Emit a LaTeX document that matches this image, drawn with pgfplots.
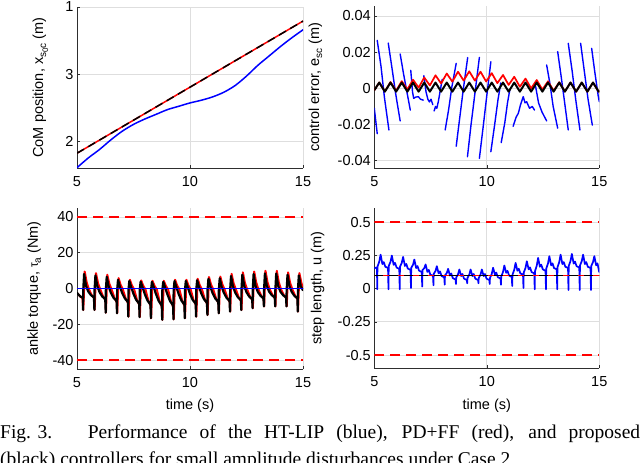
\documentclass[border=0pt]{standalone}
\usepackage{fontspec}
\setmainfont{Liberation Sans}
\newfontfamily\capfont{Liberation Serif}
\usepackage{pgfplots}
\pgfplotsset{compat=1.18}
\definecolor{mblue}{rgb}{0,0,1}
\definecolor{mred}{rgb}{1,0,0}
\definecolor{gridc}{gray}{0.87}
\definecolor{axc}{gray}{0.18}
\pgfplotsset{
  myax/.style={
    scale only axis,
    axis lines*=left,
    axis line style={axc, line width=0.8pt, -},
    xmin=5, xmax=15,
    xtick={5,10,15},
    xticklabels={5,10,15},
    scaled y ticks=false,
    grid=major,
    major grid style={gridc, line width=0.7pt},
    tick align=inside,
    major tick length=3pt,
    tick style={axc, line width=0.6pt},
    ticklabel style={font=\fontsize{14.5}{16}\selectfont},
    xticklabel style={yshift=-5pt},
    label style={font=\fontsize{14.5}{16}\selectfont},
    /pgf/number format/assume math mode=true,
    unbounded coords=jump,
    every axis plot/.append style={line join=round, line cap=round},
  }
}
\begin{document}
\begin{tikzpicture}
% ---------------- top left: CoM position
\begin{axis}[myax, at={(77pt,-168pt)}, anchor=south west, width=226pt, height=161pt,
  ymin=1.6, ymax=4, ytick={2,3,4}, yticklabels={2,3,1},
  ylabel={CoM position, x\raisebox{-0.4ex}{\fontsize{10}{10}\selectfont s\raisebox{-0.35ex}{\fontsize{8}{8}\selectfont 0}c} (m)},
  ylabel style={at={(axis description cs:-0.150,0.5)}, anchor=base}]
\addplot[mblue, line width=1.5pt, smooth] coordinates {(5,1.605) (5.5,1.75) (6,1.877) (6.5,2.02) (7,2.148) (7.5,2.25) (8,2.33) (8.5,2.40) (9,2.47) (9.5,2.52) (10,2.57) (10.5,2.61) (11,2.66) (11.5,2.73) (12,2.83) (12.5,2.97) (13,3.13) (13.5,3.27) (14,3.41) (14.5,3.54) (15,3.66)};
\addplot[mred, line width=1.5pt] coordinates {(5,1.82) (15,3.79)};
\addplot[black, line width=1.5pt, line cap=butt, dash pattern=on 8pt off 5pt] coordinates {(5,1.82) (15,3.79)};
\end{axis}
% ---------------- top right: control error
\begin{axis}[myax, at={(374.3pt,-168pt)}, anchor=south west, width=225pt, height=162pt,
  ymin=-0.044, ymax=0.0455, ytick={-0.04,-0.02,0,0.02,0.04}, yticklabels={-0.04,-0.02,0,0.02,0.04},
  ylabel={control error, e\raisebox{-0.4ex}{\fontsize{10}{10}\selectfont sc} (m)},
  ylabel style={at={(axis description cs:-0.245,0.5)}, anchor=base}]
\addplot[mblue, line width=1.4pt] coordinates {
(5.0,-0.011) (5.13,-0.025) (5.13,nan)
(5.13,0.0265) (5.3,0.012) (5.45,-0.005) (5.65,-0.023) (5.65,nan)
(5.62,0.025) (5.8,0.01) (5.95,-0.003) (6.15,-0.018) (6.15,nan)
(6.15,0.019) (6.3,0.008) (6.45,-0.002) (6.6,-0.012) (6.6,nan)
(6.62,0.010) (6.7,-0.002) (6.75,-0.0055) (6.85,-0.0048) (6.96,-0.0046) (7.05,-0.006) (7.18,-0.0065) (7.18,nan)
(7.2,0.007) (7.3,-0.002) (7.38,-0.006) (7.45,-0.0075) (7.52,-0.006) (7.6,-0.009) (7.6,nan)
(7.66,-0.0125) (7.72,-0.010) (7.78,-0.011) (7.85,-0.007) (7.92,-0.002) (8.02,0.005) (8.02,nan)
(8.15,-0.023) (8.3,-0.012) (8.45,0.001) (8.64,0.0138) (8.64,nan)
(8.64,-0.032) (8.8,-0.016) (8.95,-0.001) (9.15,0.017) (9.15,nan)
(9.14,-0.0378) (9.3,-0.02) (9.5,0.0) (9.67,0.0171) (9.67,nan)
(9.67,-0.0387) (9.85,-0.02) (10.0,-0.004) (10.18,0.0147) (10.18,nan)
(10.18,-0.035) (10.35,-0.02) (10.5,-0.006) (10.62,0.003) (10.62,nan)
(10.64,-0.030) (10.8,-0.019) (10.92,-0.008) (11.02,-0.001) (11.02,nan)
(11.17,-0.021) (11.3,-0.016) (11.4,-0.0138) (11.5,-0.009) (11.62,-0.0046) (11.7,-0.008) (11.77,-0.0074) (11.9,-0.011) (12.02,-0.010) (12.12,-0.012) (12.12,nan)
(12.17,0.001) (12.3,-0.008) (12.45,-0.013) (12.66,-0.018) (12.66,nan)
(12.66,0.0129) (12.8,0.003) (12.95,-0.01) (13.15,-0.022) (13.15,nan)
(13.15,0.0203) (13.3,0.007) (13.45,-0.007) (13.62,-0.023) (13.62,nan)
(13.62,0.0249) (13.8,0.009) (13.95,-0.006) (14.14,-0.023) (14.14,nan)
(14.17,0.0249) (14.35,0.008) (14.5,-0.006) (14.69,-0.0203) (14.69,nan)
(14.66,0.0221) (14.8,0.009) (14.95,-0.004) (15.0,-0.0074)
};
\addplot[mred, line width=1.7pt] coordinates {
(5.0,-0.001) (5.22,0.0032) (5.47,-0.0017) (5.72,0.0035) (5.97,-0.0013) (6.22,0.0040) (6.47,-0.0006)
(6.72,0.0048) (6.97,0.0004) (7.22,0.0060) (7.47,0.0016) (7.72,0.0072) (7.97,0.0027)
(8.22,0.0082) (8.47,0.0037) (8.72,0.0092) (8.97,0.0043) (9.22,0.0094) (9.47,0.0043)
(9.72,0.0092) (9.97,0.0038) (10.22,0.0084) (10.47,0.0029) (10.72,0.0074) (10.97,0.0019)
(11.22,0.0064) (11.47,0.0009) (11.72,0.0054) (11.97,0.0000) (12.22,0.0046) (12.47,-0.0007)
(12.72,0.0039) (12.97,-0.0013) (13.22,0.0034) (13.47,-0.0017) (13.72,0.0032) (13.97,-0.0018)
(14.22,0.0032) (14.47,-0.0018) (14.72,0.0032) (14.97,-0.0018) (15,-0.0015)};
\addplot[black, line width=2pt] coordinates {
(5.0,-0.001) (5.22,0.0032) (5.47,-0.0018) (5.72,0.0032) (5.97,-0.0018) (6.22,0.0032) (6.47,-0.0018)
(6.72,0.0032) (6.97,-0.0018) (7.22,0.0032) (7.47,-0.0018) (7.72,0.0032) (7.97,-0.0018)
(8.22,0.0032) (8.47,-0.0018) (8.72,0.0032) (8.97,-0.0018) (9.22,0.0032) (9.47,-0.0018)
(9.72,0.0032) (9.97,-0.0018) (10.22,0.0032) (10.47,-0.0018) (10.72,0.0032) (10.97,-0.0018)
(11.22,0.0032) (11.47,-0.0018) (11.72,0.0032) (11.97,-0.0018) (12.22,0.0032) (12.47,-0.0018)
(12.72,0.0032) (12.97,-0.0018) (13.22,0.0032) (13.47,-0.0018) (13.72,0.0032) (13.97,-0.0018)
(14.22,0.0032) (14.47,-0.0018) (14.72,0.0032) (14.97,-0.0018) (15,-0.0015)};
\end{axis}
% ---------------- bottom left: ankle torque
\begin{axis}[myax, at={(77pt,-369pt)}, anchor=south west, width=226pt, height=161pt,
  ymin=-45, ymax=45, ytick={-40,-20,0,20,40}, yticklabels={-40,-20,0,20,40},
  ylabel={ankle torque, {\fontsize{12}{12}\selectfont τ}\raisebox{-0.4ex}{\fontsize{10}{10}\selectfont a} (Nm)},
  ylabel style={at={(axis description cs:-0.173,0.5)}, anchor=base},
  xlabel={time (s)}, xlabel style={at={(axis description cs:0.5,-0.25)}, anchor=base}]
\addplot[mred, line width=1.5pt, line cap=butt, dash pattern=on 10pt off 6pt] coordinates {(5,40) (15,40)};
\addplot[mred, line width=1.5pt, line cap=butt, dash pattern=on 10pt off 6pt] coordinates {(5,-40) (15,-40)};
\addplot[mred, line width=2pt] coordinates {
(5,-2.5) (5.15,-4.5) (5.24,-5.5)
(5.28,-12) (5.34,9.5) (5.43,3.33) (5.53,-0.5) (5.65,-3.6) (5.76,-5.5)
(5.78,-12) (5.84,8.6) (5.93,3.01) (6.03,-0.5) (6.15,-4.32) (6.26,-6.6)
(6.28,-13.5) (6.34,7.7) (6.43,2.7) (6.53,-0.5) (6.65,-5.04) (6.76,-7.7)
(6.78,-13.8) (6.84,5.8) (6.93,2.03) (7.03,-0.5) (7.15,-5.4) (7.26,-8.25)
(7.28,-15.7) (7.34,4.9) (7.43,1.72) (7.53,-0.5) (7.65,-6.12) (7.76,-9.35)
(7.78,-16) (7.84,4.5) (7.93,1.58) (8.03,-0.5) (8.15,-6.48) (8.26,-9.9)
(8.28,-16.6) (8.34,4.3) (8.43,1.5) (8.53,-0.5) (8.65,-6.84) (8.76,-10.45)
(8.78,-17.5) (8.84,4.3) (8.93,1.5) (9.03,-0.5) (9.15,-6.84) (9.26,-10.45)
(9.28,-17.2) (9.34,4.9) (9.43,1.72) (9.53,-0.5) (9.65,-6.48) (9.76,-9.9)
(9.78,-16.6) (9.84,4.9) (9.93,1.72) (10.03,-0.5) (10.15,-6.12) (10.26,-9.35)
(10.28,-15.7) (10.34,5.4) (10.43,1.89) (10.53,-0.5) (10.65,-5.76) (10.76,-8.8)
(10.78,-14.8) (10.84,6.4) (10.93,2.24) (11.03,-0.5) (11.15,-5.4) (11.26,-8.25)
(11.28,-13.8) (11.34,6.7) (11.43,2.35) (11.53,-0.5) (11.65,-5.04) (11.76,-7.7)
(11.78,-12.9) (11.84,8.2) (11.93,2.87) (12.03,-0.5) (12.15,-4.68) (12.26,-7.15)
(12.28,-12) (12.34,9.0) (12.43,3.15) (12.53,-0.5) (12.65,-4.32) (12.76,-6.6)
(12.78,-11) (12.84,9.5) (12.93,3.33) (13.03,-0.5) (13.15,-3.96) (13.26,-6.05)
(13.28,-10) (13.34,9.9) (13.43,3.47) (13.53,-0.5) (13.65,-3.6) (13.76,-5.5)
(13.78,-10) (13.84,9.9) (13.93,3.47) (14.03,-0.5) (14.15,-3.6) (14.26,-5.5)
(14.28,-10) (14.34,9.0) (14.43,3.15) (14.53,-0.5) (14.65,-3.96) (14.76,-6.05)
(14.78,-12.9) (14.84,8.6) (14.93,3.01) (15,0.5)};
\addplot[black, line width=2.2pt] coordinates {
(5,-2.5) (5.15,-4.5) (5.26,-5)
(5.27,-12) (5.275,-1) (5.315,8.1) (5.40,1.4) (5.50,-1.75) (5.62,-3.75) (5.75,-5)
(5.77,-12) (5.775,-1) (5.815,7.3) (5.90,1.3) (6.00,-2.1) (6.12,-4.5) (6.25,-6)
(6.27,-13.5) (6.275,-1) (6.315,6.5) (6.40,1.2) (6.50,-2.45) (6.62,-5.25) (6.75,-7)
(6.77,-13.8) (6.775,-1) (6.815,4.9) (6.90,0.9) (7.00,-2.6) (7.12,-5.6) (7.25,-7.5)
(7.27,-15.7) (7.275,-1) (7.315,4.2) (7.40,0.7) (7.50,-3.0) (7.62,-6.4) (7.75,-8.5)
(7.77,-16) (7.775,-1) (7.815,3.8) (7.90,0.7) (8.00,-3.15) (8.12,-6.75) (8.25,-9)
(8.27,-16.6) (8.275,-1) (8.315,3.7) (8.40,0.6) (8.50,-3.3) (8.62,-7.1) (8.75,-9.5)
(8.77,-17.5) (8.775,-1) (8.815,3.7) (8.90,0.6) (9.00,-3.3) (9.12,-7.1) (9.25,-9.5)
(9.27,-17.2) (9.275,-1) (9.315,4.2) (9.40,0.7) (9.50,-3.15) (9.62,-6.75) (9.75,-9)
(9.77,-16.6) (9.775,-1) (9.815,4.2) (9.90,0.7) (10.00,-3.0) (10.12,-6.4) (10.25,-8.5)
(10.27,-15.7) (10.275,-1) (10.315,4.6) (10.40,0.8) (10.50,-2.8) (10.62,-6) (10.75,-8)
(10.77,-14.8) (10.775,-1) (10.815,5.4) (10.90,1.0) (11.00,-2.6) (11.12,-5.6) (11.25,-7.5)
(11.27,-13.8) (11.275,-1) (11.315,5.7) (11.40,1.0) (11.50,-2.45) (11.62,-5.25) (11.75,-7)
(11.77,-12.9) (11.775,-1) (11.815,7.0) (11.90,1.2) (12.00,-2.3) (12.12,-4.9) (12.25,-6.5)
(12.27,-12) (12.275,-1) (12.315,7.7) (12.40,1.35) (12.50,-2.1) (12.62,-4.5) (12.75,-6)
(12.77,-11) (12.775,-1) (12.815,8.1) (12.90,1.4) (13.00,-1.9) (13.12,-4.1) (13.25,-5.5)
(13.27,-10) (13.275,-1) (13.315,8.4) (13.40,1.5) (13.50,-1.75) (13.62,-3.75) (13.75,-5)
(13.77,-10) (13.775,-1) (13.815,8.4) (13.90,1.5) (14.00,-1.75) (14.12,-3.75) (14.25,-5)
(14.27,-10) (14.275,-1) (14.315,7.7) (14.40,1.35) (14.50,-1.9) (14.62,-4.1) (14.75,-5.5)
(14.77,-12.9) (14.775,-1) (14.815,7.3) (14.90,1.3) (15,-1)};
\addplot[mblue, line width=1.8pt] coordinates {(5,0) (15,0)};
\end{axis}
% ---------------- bottom right: step length
\begin{axis}[myax, at={(374.3pt,-368.3pt)}, anchor=south west, width=225pt, height=160pt,
  ymin=-0.6, ymax=0.605, ytick={-0.5,-0.25,0,0.25,0.5}, yticklabels={-0.5,-0.25,0,0.25,0.5},
  ylabel={step length, u (m)},
  ylabel style={at={(axis description cs:-0.235,0.5)}, anchor=base},
  xlabel={time (s)}, xlabel style={at={(axis description cs:0.5,-0.255)}, anchor=base}]
\addplot[mred, line width=1.5pt, line cap=butt, dash pattern=on 10pt off 6pt] coordinates {(5,0.5) (15,0.5)};
\addplot[mred, line width=1.5pt, line cap=butt, dash pattern=on 10pt off 6pt] coordinates {(5,-0.5) (15,-0.5)};
\addplot[mblue, line width=1.7pt] coordinates {
(5.0,0.15) (5.06,0.16) (5.12,0.15)
(5.13,-0.005) (5.14,0.165) (5.22,0.203) (5.28,0.256) (5.36,0.185) (5.42,0.200) (5.49,0.165) (5.61,0.155)
(5.63,-0.005) (5.64,0.17) (5.72,0.202) (5.78,0.249) (5.86,0.179) (5.92,0.194) (5.99,0.159) (6.11,0.149)
(6.13,-0.005) (6.14,0.164) (6.22,0.194) (6.28,0.239) (6.36,0.171) (6.42,0.186) (6.49,0.151) (6.61,0.141)
(6.63,0.005) (6.64,0.156) (6.72,0.18) (6.78,0.219) (6.86,0.155) (6.92,0.17) (6.99,0.135) (7.11,0.125)
(7.13,0.015) (7.14,0.14) (7.22,0.154) (7.28,0.182) (7.36,0.126) (7.42,0.141) (7.49,0.106) (7.61,0.096)
(7.63,0.025) (7.64,0.111) (7.72,0.133) (7.78,0.169) (7.86,0.115) (7.92,0.13) (7.99,0.095) (8.11,0.085)
(8.13,0.03) (8.14,0.1) (8.22,0.117) (8.28,0.149) (8.36,0.099) (8.42,0.114) (8.49,0.079) (8.61,0.069)
(8.63,0.035) (8.64,0.084) (8.72,0.107) (8.78,0.144) (8.86,0.095) (8.92,0.11) (8.99,0.075) (9.11,0.065)
(9.13,0.04) (9.14,0.08) (9.22,0.105) (9.28,0.144) (9.36,0.095) (9.42,0.11) (9.49,0.075) (9.61,0.065)
(9.63,0.04) (9.64,0.08) (9.72,0.105) (9.78,0.144) (9.86,0.095) (9.92,0.11) (9.99,0.075) (10.11,0.065)
(10.13,0.035) (10.14,0.08) (10.22,0.111) (10.28,0.157) (10.36,0.106) (10.42,0.121) (10.49,0.086) (10.61,0.076)
(10.63,0.03) (10.64,0.091) (10.72,0.125) (10.78,0.174) (10.86,0.119) (10.92,0.134) (10.99,0.099) (11.11,0.089)
(11.13,0.02) (11.14,0.104) (11.22,0.142) (11.28,0.194) (11.36,0.135) (11.42,0.15) (11.49,0.115) (11.61,0.105)
(11.63,0.005) (11.64,0.12) (11.72,0.156) (11.78,0.206) (11.86,0.145) (11.92,0.16) (11.99,0.125) (12.11,0.115)
(12.13,-0.005) (12.14,0.13) (12.22,0.173) (12.28,0.231) (12.36,0.165) (12.42,0.18) (12.49,0.145) (12.61,0.135)
(12.63,-0.005) (12.64,0.15) (12.72,0.19) (12.78,0.244) (12.86,0.175) (12.92,0.19) (12.99,0.155) (13.11,0.145)
(13.13,-0.005) (13.14,0.16) (13.22,0.2) (13.28,0.256) (13.36,0.185) (13.42,0.2) (13.49,0.165) (13.61,0.155)
(13.63,-0.01) (13.64,0.17) (13.72,0.208) (13.78,0.261) (13.86,0.189) (13.92,0.204) (13.99,0.169) (14.11,0.159)
(14.13,-0.01) (14.14,0.174) (14.22,0.207) (14.28,0.256) (14.36,0.185) (14.42,0.2) (14.49,0.165) (14.61,0.155)
(14.63,-0.01) (14.64,0.17) (14.72,0.2) (14.78,0.244) (14.86,0.175) (14.92,0.19) (14.99,0.13) (15,0.125)};
\addplot[mred, line width=1.6pt] coordinates {(5,0.1) (15,0.1)};
\addplot[black, line width=1.6pt, line cap=butt, dash pattern=on 9pt off 6pt] coordinates {(5,0.1) (15,0.1)};
\end{axis}
% ---------------- caption
\node[anchor=base west, inner sep=0pt] at (0pt,-438pt)
  {\capfont\fontsize{19.5}{22}\selectfont\makebox[640pt][s]{\mbox{Fig. 3.}\hspace{1.2em} Performance of the HT-LIP (blue), PD+FF (red), and proposed}};
\node[anchor=base west, inner sep=0pt] at (0pt,-465pt)
  {\capfont\fontsize{19.5}{22}\selectfont (black) controllers for small amplitude disturbances under Case 2.};
\pgfresetboundingbox
\useasboundingbox (0pt,0pt) rectangle (640pt,-463pt);
\end{tikzpicture}
\end{document}
